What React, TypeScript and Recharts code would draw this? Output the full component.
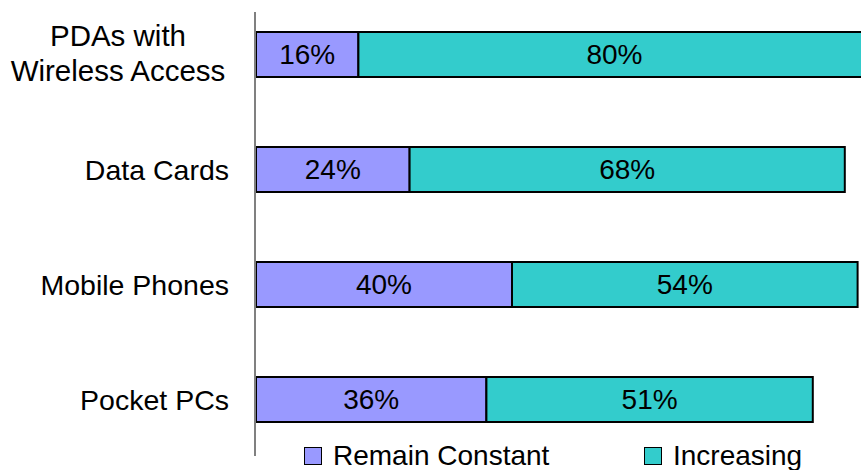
import { Bar, BarChart, LabelList, Legend, ReferenceLine, XAxis, YAxis } from "recharts";

const FONT = '"Liberation Sans", Arial, Helvetica, sans-serif';

const categories = ["PDAs with\nWireless Access", "Data Cards", "Mobile Phones", "Pocket PCs"];
const remainConstant = [16, 24, 40, 36];
const increasing = [80, 68, 54, 51];

const data = categories.map((name, i) => ({
  name,
  remain: remainConstant[i],
  increasing: increasing[i],
}));

const legendOrder = ["remain", "increasing"];
const legendLeft = [304, 644];

const pct = (v: unknown) => `${v}%`;

function CategoryTick(props: any) {
  const { x, y, payload } = props;
  const lines = String(payload.value).split("\n");
  if (lines.length === 1) {
    return (
      <text x={x} y={y} dy="0.355em" textAnchor="end" fontSize={28.5} fill="#000" fontFamily={FONT}>
        {lines[0]}
      </text>
    );
  }
  const cx = x - 111;
  return (
    <text x={cx} y={y} textAnchor="middle" fontSize={29.5} fill="#000" fontFamily={FONT}>
      <tspan x={cx} dy={-8.8}>
        {lines[0]}
      </tspan>
      <tspan x={cx} dy={35.3}>
        {lines[1]}
      </tspan>
    </text>
  );
}

function AxisLine(p: any) {
  const top = Math.min(p.y1, p.y2);
  const bottom = Math.max(p.y1, p.y2);
  return <line x1={p.x1 - 1} y1={top + 15} x2={p.x2 - 1} y2={bottom - 1} stroke="#808080" strokeWidth={2} />;
}

function LegendBox({ payload }: any) {
  const items = legendOrder
    .map((key) => (payload || []).find((e: any) => e.dataKey === key))
    .filter(Boolean);
  return (
    <div style={{ position: "relative", width: 861, height: 32, fontFamily: FONT, fontSize: 28, color: "#000" }}>
      {items.map((entry: any, i: number) => (
        <div
          key={entry.value}
          style={{
            position: "absolute",
            left: legendLeft[i],
            top: 0,
            height: 32,
            display: "flex",
            alignItems: "center",
            whiteSpace: "nowrap",
          }}
        >
          <span
            style={{
              display: "inline-block",
              width: 16,
              height: 16,
              background: entry.color,
              border: "1.5px solid #000",
              marginRight: 11,
            }}
          />
          <span style={{ lineHeight: "32px" }}>{entry.value}</span>
        </div>
      ))}
    </div>
  );
}

export default function App() {
  return (
    <div
      style={{
        position: "fixed",
        left: 0,
        top: 0,
        width: 861,
        height: 470,
        overflow: "hidden",
        background: "#fff",
        fontFamily: FONT,
      }}
    >
      <div style={{ position: "absolute", left: 0, top: -3 }}>
        <BarChart
          width={900}
          height={476}
          data={data}
          layout="vertical"
          margin={{ top: 0, right: 4, bottom: 16, left: 0 }}
          barSize={45}
        >
          <XAxis type="number" domain={[0, 100]} hide />
          <YAxis
            type="category"
            dataKey="name"
            width={256}
            axisLine={false}
            tickLine={false}
            tickSize={6}
            tickMargin={21}
            interval={0}
            tick={<CategoryTick />}
          />
          <Bar dataKey="remain" name="Remain Constant" stackId="a" fill="#9999FF" stroke="#000" strokeWidth={2} isAnimationActive={false}>
            <LabelList dataKey="remain" position="center" formatter={pct} fill="#000" fontSize={28} fontFamily={FONT} />
          </Bar>
          <Bar dataKey="increasing" name="Increasing" stackId="a" fill="#33CCCC" stroke="#000" strokeWidth={2} isAnimationActive={false}>
            <LabelList dataKey="increasing" position="center" formatter={pct} fill="#000" fontSize={28} fontFamily={FONT} />
          </Bar>
          <ReferenceLine x={0} stroke="#808080" strokeWidth={2} shape={AxisLine} />
          <Legend
            layout="vertical"
            align="center"
            verticalAlign="middle"
            wrapperStyle={{ left: 0, top: 443, width: 861, height: 32 }}
            content={<LegendBox />}
          />
        </BarChart>
      </div>
    </div>
  );
}
